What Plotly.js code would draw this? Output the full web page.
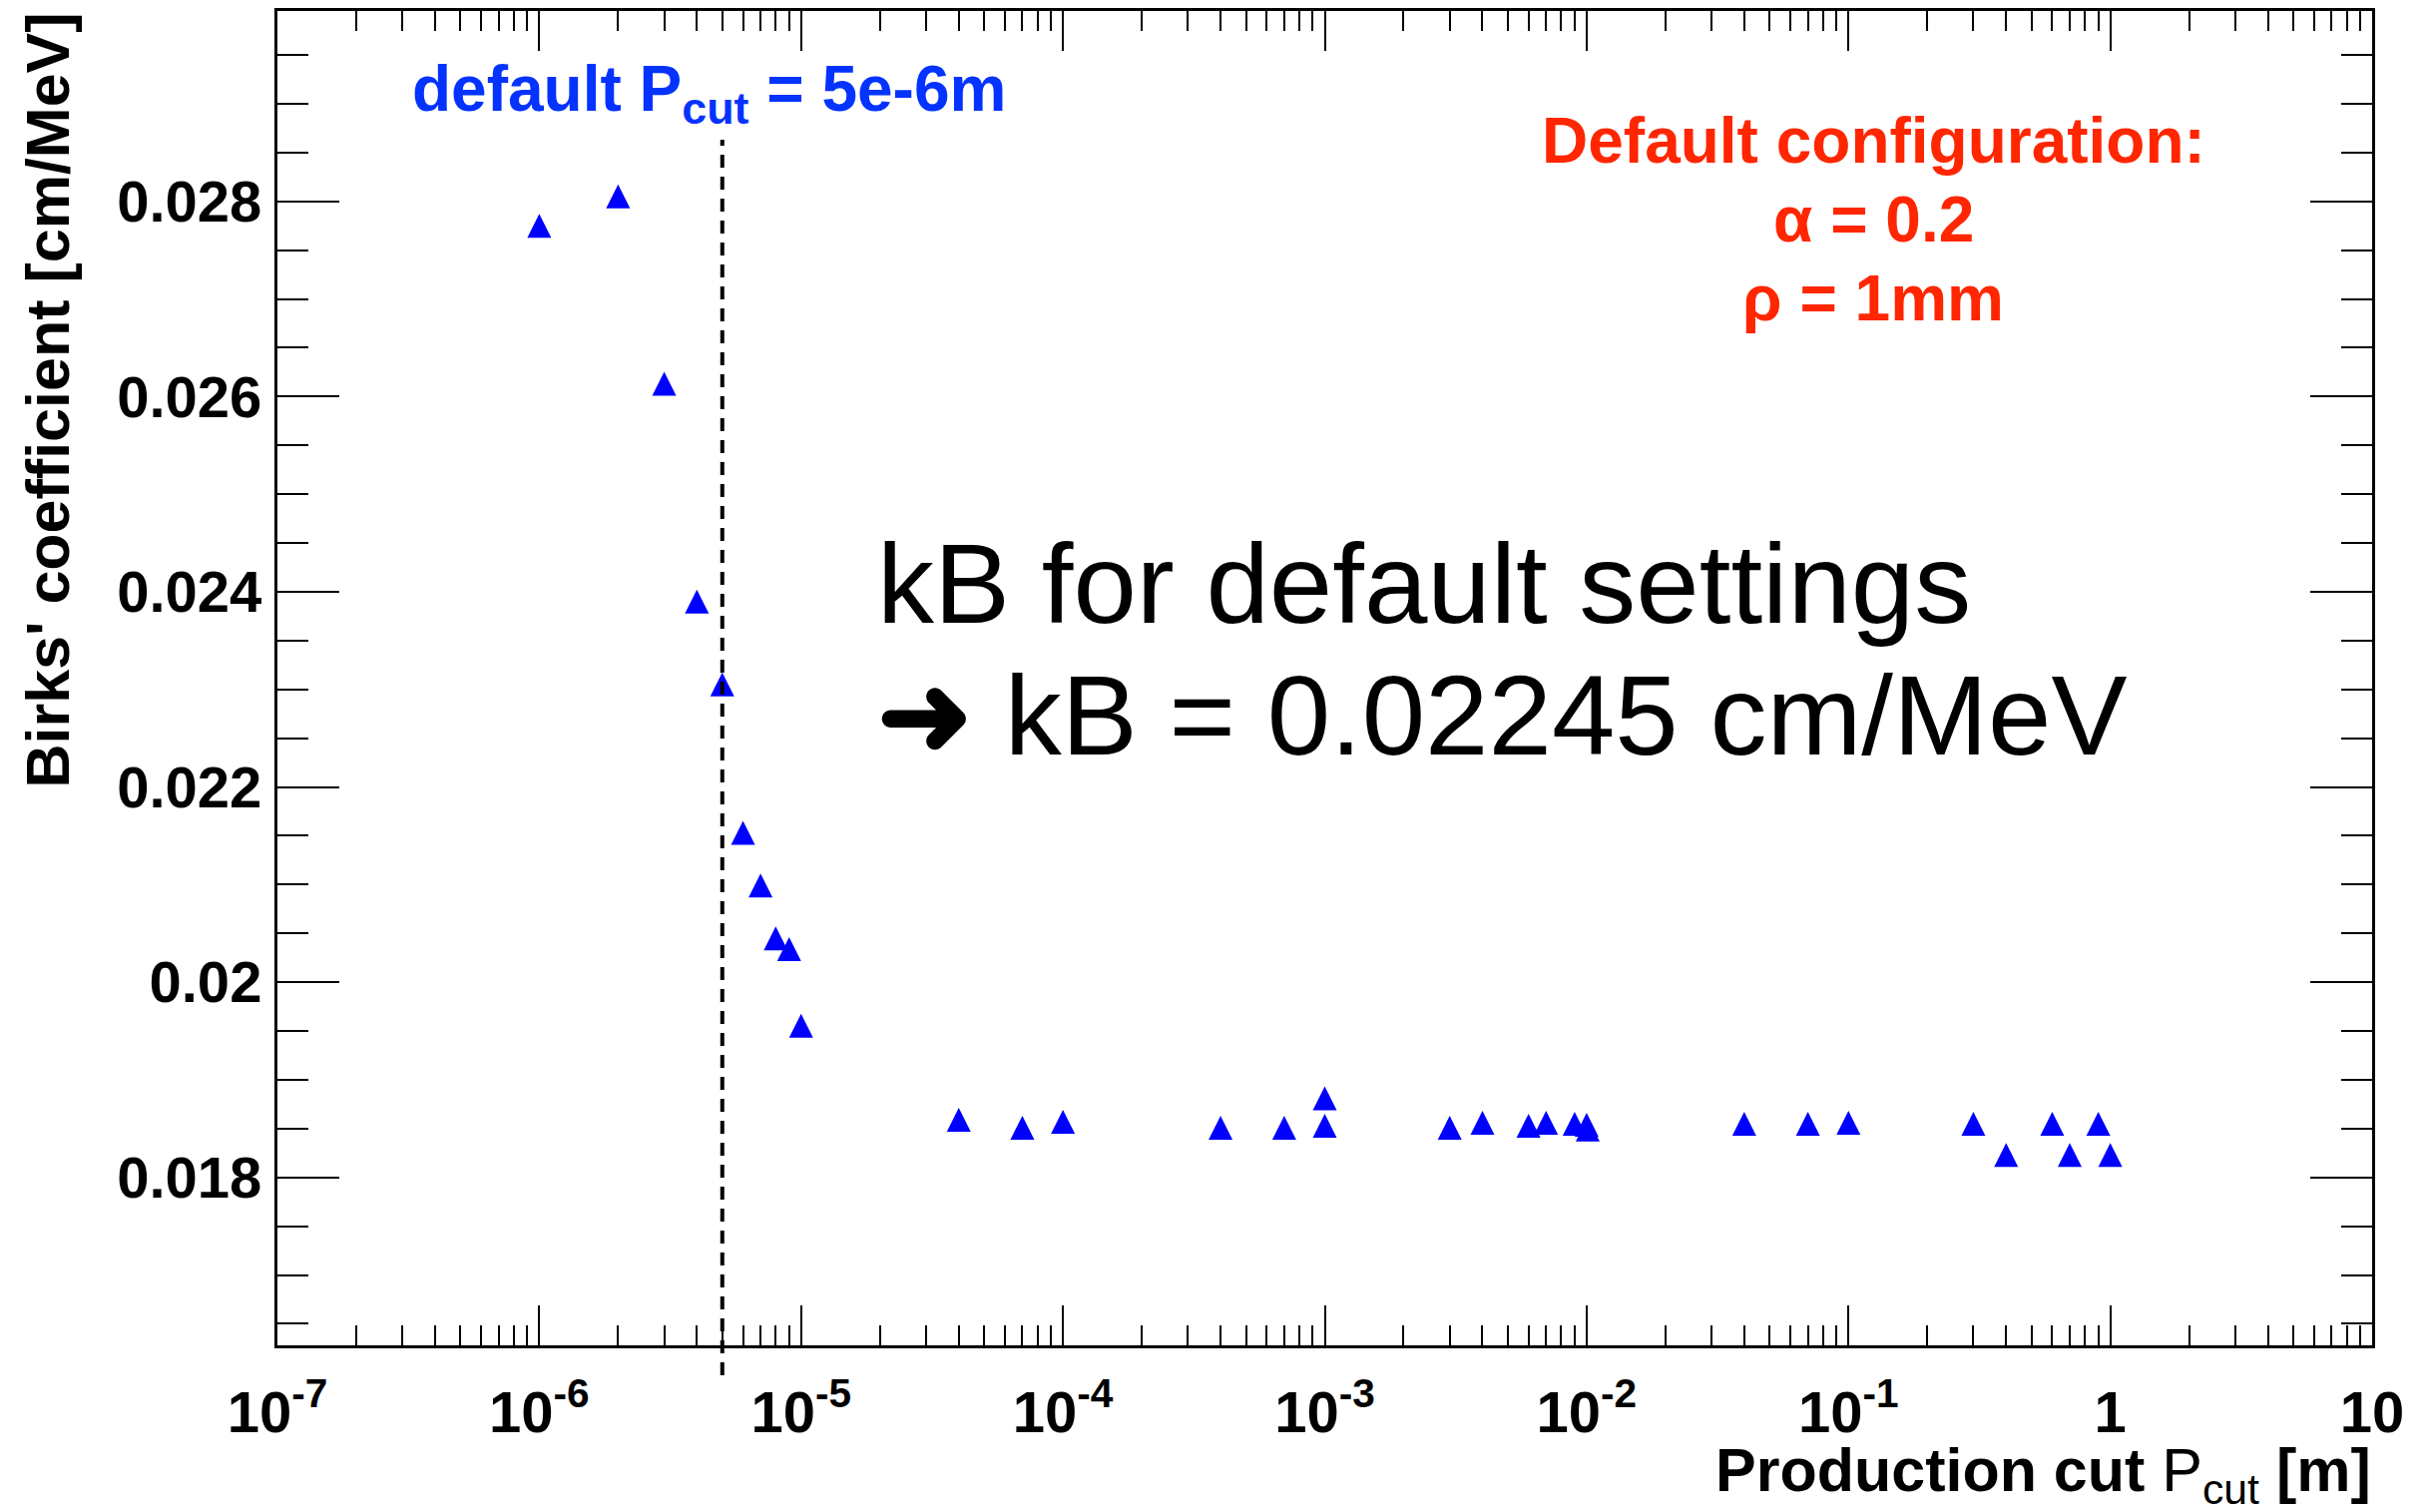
<!DOCTYPE html>
<html>
<head>
<meta charset="utf-8">
<script src="https://cdn.plot.ly/plotly-3.0.1.min.js"></script>
<style>
  html, body { margin: 0; padding: 0; background: #fff; }
  #chart { width: 2434px; height: 1515px; }
</style>
</head>
<body>
<div id="chart"></div>
<script>
// ---- Data ----
const productionCut = [1e-6, 2e-6, 3e-6, 4e-6, 5e-6, 6e-6, 7e-6, 8e-6, 9e-6, 1e-5,
  4e-5, 7e-5, 1e-4, 4e-4, 7e-4, 1e-3, 1e-3, 3e-3, 4e-3, 6e-3, 7e-3, 9e-3, 1e-2, 1.01e-2,
  0.04, 0.07, 0.1, 0.3, 0.4, 0.6, 0.7, 0.9, 1.0];
const birksCoefficient = [0.02775, 0.02805, 0.02613, 0.02390, 0.02305, 0.02153, 0.02099, 0.02045, 0.02034, 0.019555,
  0.01859, 0.01851, 0.01857, 0.01851, 0.01851, 0.01881, 0.01853, 0.01851, 0.01856, 0.01853, 0.01856, 0.01855, 0.01854, 0.01849,
  0.01855, 0.01855, 0.01856, 0.01855, 0.01823, 0.01855, 0.01823, 0.01855, 0.01823];
const defaultCut = 5e-6;

const xTickVals = [1e-7, 1e-6, 1e-5, 1e-4, 1e-3, 1e-2, 1e-1, 1, 10];
const xTickText = ['10<sup>-7</sup>', '10<sup>-6</sup>', '10<sup>-5</sup>', '10<sup>-4</sup>',
  '10<sup>-3</sup>', '10<sup>-2</sup>', '10<sup>-1</sup>', '1', '10'];
const yTickVals = [0.018, 0.020, 0.022, 0.024, 0.026, 0.028];
const yTickText = ['0.018', '0.02', '0.022', '0.024', '0.026', '0.028'];

// ---- Styling ----
const FONT = 'Liberation Sans, Arial, Helvetica, sans-serif';
const BLUE_TXT = '#0433ff';
const RED_TXT = '#ff2600';

const trace = {
  x: productionCut,
  y: birksCoefficient,
  type: 'scatter',
  mode: 'markers',
  marker: {
    symbol: 'arrow-down',
    angle: 180,
    standoff: 12,
    size: 24,
    color: '#0000ff',
    line: { width: 0 }
  },
  hoverinfo: 'x+y',
  showlegend: false
};

const layout = {
  width: 2434,
  height: 1515,
  margin: { l: 278, r: 57, t: 11, b: 167, pad: 0 },
  paper_bgcolor: '#ffffff',
  plot_bgcolor: '#ffffff',
  showlegend: false,
  font: { family: FONT, color: '#000' },
  xaxis: {
    type: 'log',
    range: [-7, 1],
    tickmode: 'array',
    tickvals: xTickVals,
    ticktext: xTickText,
    ticks: 'inside',
    ticklen: 40,
    tickwidth: 2,
    tickcolor: '#000',
    showline: true,
    linecolor: '#000',
    linewidth: 3,
    mirror: 'ticks',
    showgrid: false,
    zeroline: false,
    ticklabelstandoff: 14,
    tickfont: { family: FONT, size: 58, weight: 'bold', color: '#000' },
    minor: { dtick: 'D1', ticks: 'inside', ticklen: 20, tickwidth: 2, tickcolor: '#000', showgrid: false }
  },
  yaxis: {
    range: [0.01628, 0.02995],
    tickmode: 'array',
    tickvals: yTickVals,
    ticktext: yTickText,
    ticks: 'inside',
    ticklen: 62,
    tickwidth: 2,
    tickcolor: '#000',
    showline: true,
    linecolor: '#000',
    linewidth: 3,
    mirror: 'ticks',
    showgrid: false,
    zeroline: false,
    ticklabelstandoff: 1,
    tickfont: { family: FONT, size: 58, weight: 'bold', color: '#000' },
    minor: { tick0: 0, dtick: 0.0005, ticks: 'inside', ticklen: 31, tickwidth: 2, tickcolor: '#000', showgrid: false }
  },
  shapes: [{
    type: 'line',
    xref: 'x', yref: 'paper',
    x0: defaultCut, x1: defaultCut,
    y0: -0.0224, y1: 0.9035,
    line: { color: '#000', width: 4, dash: '13px,9px' },
    layer: 'above'
  }],
  annotations: [
    { // y-axis title
      text: "<b>Birks' coefficient [cm/MeV]</b>",
      xref: 'paper', yref: 'paper', x: -0.110, y: 1.0,
      xanchor: 'center', yanchor: 'top', textangle: -90, showarrow: false,
      font: { family: FONT, size: 61, color: '#000' }
    },
    { // x-axis title
      text: '<b>Production cut</b> P<sub>cut</sub> <b>[m]</b>',
      xref: 'paper', yref: 'paper', x: 1.0, y: -0.0965,
      xanchor: 'right', yanchor: 'middle', showarrow: false, borderpad: 0,
      font: { family: FONT, size: 61, color: '#000' }
    },
    {
      text: '<b>default P<sub>cut</sub> = 5e-6m</b>',
      xref: 'paper', yref: 'paper', x: 0.0634, y: 0.9387,
      xanchor: 'left', yanchor: 'middle', showarrow: false,
      font: { family: FONT, size: 64, color: BLUE_TXT }
    },
    {
      text: '<b>Default configuration:</b>',
      xref: 'paper', yref: 'paper', x: 0.7618, y: 0.9028,
      xanchor: 'center', yanchor: 'middle', showarrow: false,
      font: { family: FONT, size: 64, color: RED_TXT }
    },
    {
      text: '<b>α = 0.2</b>',
      xref: 'paper', yref: 'paper', x: 0.7618, y: 0.8437,
      xanchor: 'center', yanchor: 'middle', showarrow: false,
      font: { family: FONT, size: 64, color: RED_TXT }
    },
    {
      text: '<b>ρ = 1mm</b>',
      xref: 'paper', yref: 'paper', x: 0.7618, y: 0.7846,
      xanchor: 'center', yanchor: 'middle', showarrow: false,
      font: { family: FONT, size: 64, color: RED_TXT }
    },
    {
      text: 'kB for default settings',
      xref: 'paper', yref: 'paper', x: 0.2854, y: 0.5714,
      xanchor: 'left', yanchor: 'middle', showarrow: false,
      font: { family: FONT, size: 114, color: '#000' }
    },
    {
      text: '<b>➜</b> kB = 0.02245 cm/MeV',
      xref: 'paper', yref: 'paper', x: 0.2854, y: 0.4720,
      xanchor: 'left', yanchor: 'middle', showarrow: false,
      font: { family: FONT, size: 114, color: '#000' }
    }
  ]
};

Plotly.newPlot('chart', [trace], layout, { displayModeBar: false, staticPlot: true });
</script>
</body>
</html>
